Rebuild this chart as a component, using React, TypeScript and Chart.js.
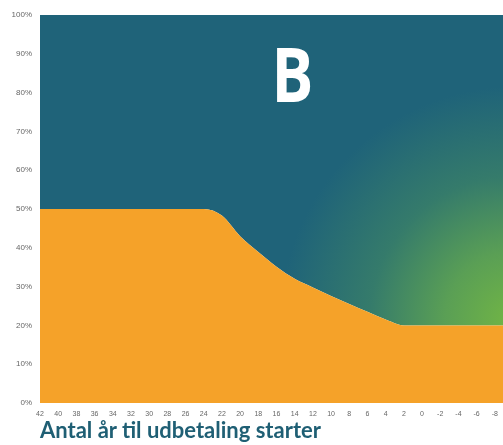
import React, { useEffect, useRef } from 'react';
import { Chart, registerables } from 'chart.js';

Chart.register(...registerables);

// Years until payout starts (x), reversed axis
const years = [42, 40, 38, 36, 34, 32, 30, 28, 26, 24, 22, 20, 18, 16, 14, 12, 10, 8, 6, 4, 2, 0, -2, -4, -6, -8, -10];
// Orange share (%)
const safeShare = [50, 50, 50, 50, 50, 50, 50, 50, 50, 50, 48.3, 43, 38.9, 35.1, 32, 29.8, 27.6, 25.5, 23.5, 21.5, 20, 20, 20, 20, 20, 20, 20];
// Top of the stack (%)
const totalShare = [100, 100, 100, 100, 100, 100, 100, 100, 100, 100, 100, 100, 100, 100, 100, 100, 100, 100, 100, 100, 100, 100, 100, 100, 100, 100, 100];
const tickYears = [42, 40, 38, 36, 34, 32, 30, 28, 26, 24, 22, 20, 18, 16, 14, 12, 10, 8, 6, 4, 2, 0, -2, -4, -6, -8];
const yTicks = [0, 10, 20, 30, 40, 50, 60, 70, 80, 90, 100];
const panelLabel = 'B';
const xTitle = 'Antal år til udbetaling starter';

const ORANGE = '#f5a229';
const TEAL = '#1f6379';

const letterPlugin = {
  id: 'panelLetter',
  afterDatasetsDraw(chart: any) {
    const { ctx, chartArea } = chart;
    ctx.save();
    ctx.fillStyle = '#ffffff';
    ctx.font = 'bold 76px "Open Sans"';
    ctx.textAlign = 'center';
    ctx.textBaseline = 'alphabetic';
    const cx = chartArea.left + (chartArea.right - chartArea.left) * 0.545;
    ctx.translate(cx, chartArea.top + 87);
    ctx.scale(0.82, 1);
    ctx.fillText(panelLabel, 0, 0);
    ctx.restore();
  },
};

export default function App() {
  const ref = useRef<HTMLCanvasElement | null>(null);
  useEffect(() => {
    if (!ref.current) return;
    const chart = new Chart(ref.current, {
      type: 'line',
      data: {
        datasets: [
          {
            label: 'safe',
            data: years.map((x, i) => ({ x, y: safeShare[i] })),
            borderWidth: 0,
            borderColor: ORANGE,
            backgroundColor: ORANGE,
            pointRadius: 0,
            fill: 'origin',
            cubicInterpolationMode: 'monotone',
          },
          {
            label: 'growth',
            data: years.map((x, i) => ({ x, y: totalShare[i] })),
            borderWidth: 0,
            borderColor: TEAL,
            pointRadius: 0,
            fill: '-1',
            backgroundColor: (c: any) => {
              const a = c.chart.chartArea;
              if (!a) return TEAL;
              const cx = a.right + 12;
              const cy = a.top + (a.bottom - a.top) * 0.79;
              const g = c.chart.ctx.createRadialGradient(cx, cy, 0, cx, cy, 235);
              g.addColorStop(0, '#72b644');
              g.addColorStop(0.3, '#5a9f55');
              g.addColorStop(0.62, '#357b6b');
              g.addColorStop(1, TEAL);
              return g;
            },
          },
        ],
      },
      options: {
        responsive: false,
        animation: false,
        devicePixelRatio: 1,
        layout: { padding: { top: 15, right: 0, left: 0, bottom: 0 } },
        plugins: { legend: { display: false }, tooltip: { enabled: false } },
        scales: {
          x: {
            type: 'linear',
            reverse: true,
            min: -8.9,
            max: 42,
            grid: { display: false, drawTicks: false, tickLength: 0 },
            border: { display: false },
            afterBuildTicks: (s: any) => {
              s.ticks = tickYears.map((v) => ({ value: v }));
            },
            afterFit: (s: any) => {
              s.height = 42;
              s.paddingLeft = 0;
              s.paddingRight = 0;
            },
            ticks: {
              autoSkip: false,
              maxRotation: 0,
              padding: 7,
              color: '#666',
              font: { size: 7, family: 'Liberation Sans' },
              callback: (v: any) => String(v),
            },
          },
          y: {
            min: 0,
            max: 100,
            grid: { display: false, drawTicks: false, tickLength: 0 },
            border: { display: false },
            afterBuildTicks: (s: any) => {
              s.ticks = yTicks.map((v) => ({ value: v }));
            },
            afterFit: (s: any) => {
              s.width = 40;
              s.paddingTop = 0;
              s.paddingBottom = 0;
            },
            ticks: {
              padding: 8,
              color: '#666',
              font: { size: 8, family: 'Liberation Sans' },
              callback: (v: any) => v + '%',
            },
          },
        },
      },
      plugins: [letterPlugin],
    });
    return () => chart.destroy();
  }, []);
  return (
    <div style={{ position: 'absolute', left: 0, top: 0, width: 503, height: 445, background: '#fff', overflow: 'hidden' }}>
      <canvas ref={ref} width={503} height={445} style={{ display: 'block' }} />
      <div
        style={{
          position: 'absolute',
          left: 40,
          top: 419,
          fontFamily: 'Lato',
          fontWeight: 'bold',
          fontSize: 22,
          lineHeight: '22px',
          color: '#1f5f74',
          whiteSpace: 'nowrap',
        }}
      >
        {xTitle}
      </div>
    </div>
  );
}
